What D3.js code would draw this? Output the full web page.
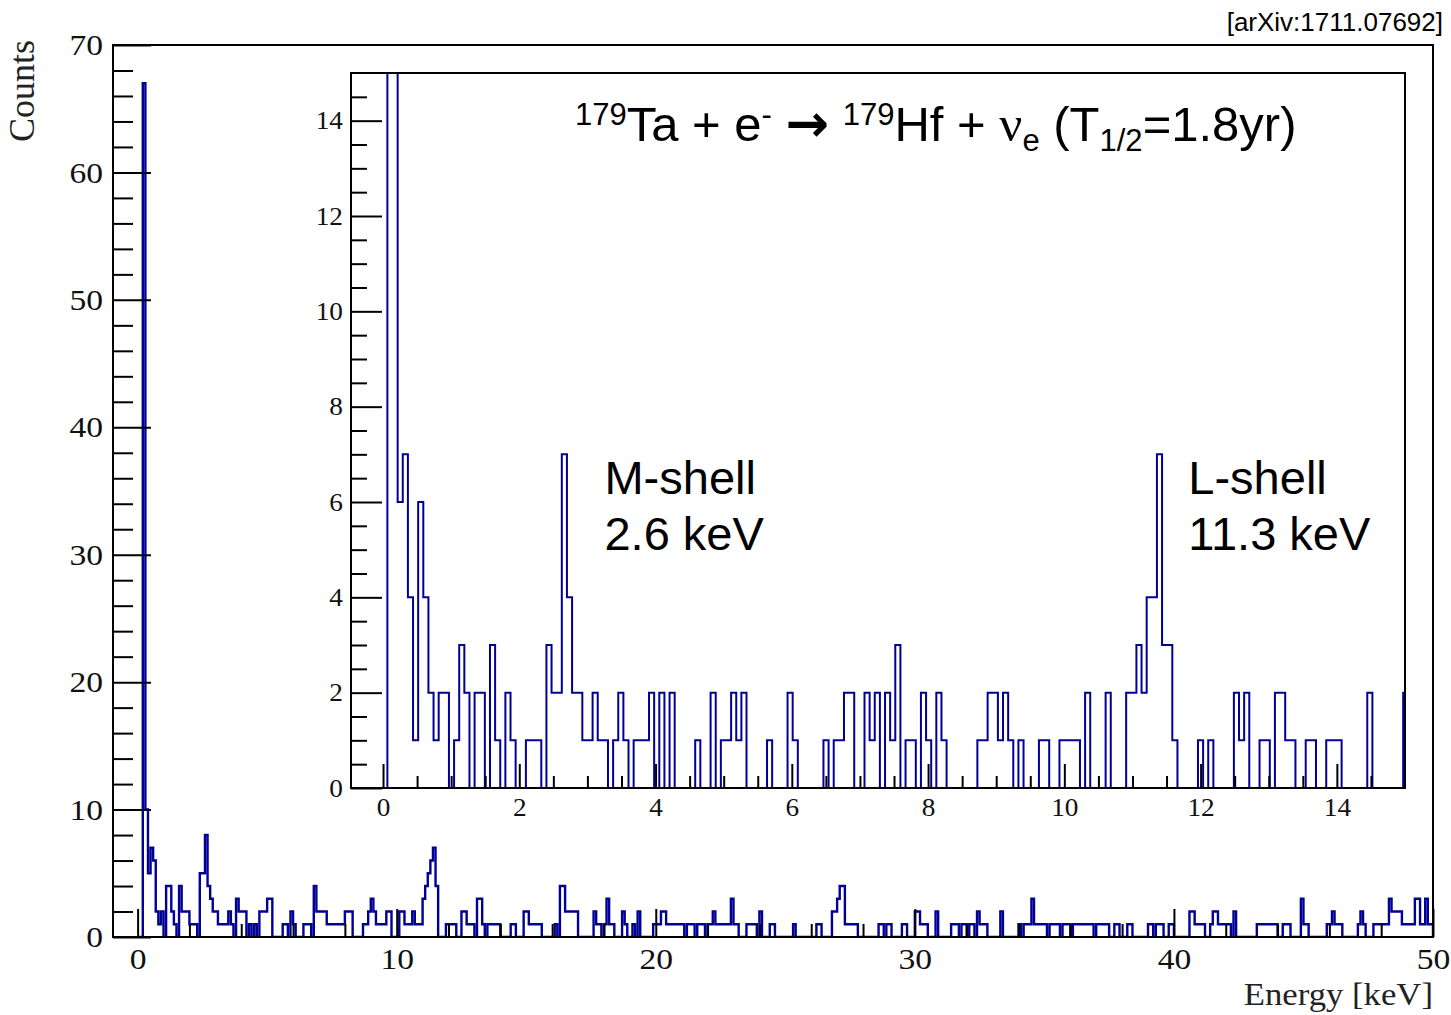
<!DOCTYPE html>
<html>
<head>
<meta charset="utf-8">
<script src="https://cdn.jsdelivr.net/npm/d3@7"></script>
<style>
  html, body { margin: 0; padding: 0; background: #fff; }
  svg { display: block; }
  text { white-space: pre; }
</style>
</head>
<body>
<svg id="chart" width="1451" height="1015"></svg>
<script>
// ---------------- data ----------------
// Full spectrum: counts per 0.1 keV bin, 0 - 50 keV
const spectrumBinStart = 0;
const spectrumBinWidth = 0.1;
const spectrumCounts = [
  0,0,67,10,5,7,6,2,1,2, 0,4,4,2,1,0,4,2,2,2, 1,1,1,0,5,5,8,4,3,2, 2,1,1,1,1,2,1,0,3,2, 2,2,0,1,0,1,0,2,2,2,
  3,3,0,0,0,0,1,1,0,2, 1,0,0,0,1,1,1,0,4,2, 2,2,2,1,1,1,1,1,1,1, 2,2,2,0,0,0,0,1,1,2, 3,2,1,1,1,1,2,2,0,0,
  0,2,2,1,1,1,2,1,1,1, 3,4,5,6,7,4,0,0,0,1, 1,1,1,0,0,2,2,1,1,1, 0,3,3,1,0,1,1,1,1,1, 0,0,0,0,1,1,0,0,0,2,
  2,1,1,1,1,1,0,0,0,0, 0,1,0,4,4,2,2,2,2,2, 0,0,0,0,0,0,2,1,1,0, 1,3,1,1,0,0,0,2,1,0, 0,1,0,2,0,0,0,0,0,1,
  1,1,2,2,1,1,1,1,1,1, 1,0,1,1,1,0,1,1,1,0, 1,1,2,1,1,1,1,1,1,3, 1,1,0,0,0,1,1,1,1,0, 2,0,0,0,1,1,0,0,0,0,
  0,0,0,1,0,0,0,0,0,0, 0,0,1,1,0,0,0,0,2,2, 3,4,4,1,1,1,1,1,0,0, 0,0,0,0,0,0,1,1,0,1, 1,0,0,0,0,1,1,0,0,0,
  2,2,1,1,1,0,0,0,2,0, 0,0,0,0,1,1,1,0,1,1, 0,1,1,0,2,1,1,1,0,0, 0,0,0,2,0,0,0,0,0,0, 1,0,1,1,1,3,1,1,1,1,
  1,0,1,1,1,1,0,1,1,1, 0,1,1,1,1,1,1,1,1,0, 1,1,1,1,1,0,0,1,1,0, 0,0,1,1,0,0,0,0,0,0, 1,1,0,1,1,1,0,0,1,1,
  0,0,0,0,0,0,2,2,1,1, 1,1,0,0,1,2,2,1,1,1, 1,1,0,2,0,0,0,0,0,0, 0,0,1,1,1,1,1,1,1,1, 0,0,1,1,1,0,0,0,0,3,
  1,1,0,0,0,0,0,0,0,1, 1,2,1,1,1,0,0,0,0,0, 0,1,2,1,0,0,0,1,1,1, 1,1,1,3,2,2,2,2,1,1, 1,1,1,3,3,1,1,3,1,1
];

// Low-energy detail: finer bins starting just above 0 keV
const detailBinStart = 0.064;
const detailBinWidth = 0.0753;
const detailCounts = [
  40,26,6,7,4,1,6,4,2,1,  2,2,0,1,3,2,0,2,2,0,  3,1,0,2,1,0,0,1,1,1,  0,3,2,2,7,4,2,2,1,1,
  2,1,1,0,1,2,1,0,1,1,    1,2,0,2,0,2,0,0,0,0,  1,0,0,2,0,1,1,2,1,2,  0,0,0,0,1,0,0,0,2,1,
  0,0,0,0,0,1,0,1,1,2,    2,0,0,2,1,2,0,2,1,3,  0,1,1,0,2,1,0,2,1,0,  0,0,0,0,0,1,1,2,2,1,
  2,1,0,1,0,0,0,1,1,0,    0,1,1,1,1,0,2,0,0,0,  2,0,0,0,2,2,3,2,4,4,  7,3,3,1,0,0,0,0,1,0,
  1,0,0,0,0,2,1,2,0,0,    1,1,0,2,2,1,1,0,0,1,  1,0,0,1,1,1,0,0,0,0,  0,2,0,0,0,0,0,0,2
];

// axis ticks
const spectrumXMajor = [0, 10, 20, 30, 40, 50];
const spectrumXMinor = [2,4,6,8,12,14,16,18,22,24,26,28,32,34,36,38,42,44,46,48];
const spectrumYMajor = [0, 10, 20, 30, 40, 50, 60, 70];
const spectrumYMinor = [2,4,6,8,12,14,16,18,22,24,26,28,32,34,36,38,42,44,46,48,52,54,56,58,62,64,66,68];
const detailXMajor = [0, 2, 4, 6, 8, 10, 12, 14];
const detailXMinor = [0.5,1,1.5,2.5,3,3.5,4.5,5,5.5,6.5,7,7.5,8.5,9,9.5,10.5,11,11.5,12.5,13,13.5,14.5];
const detailYMajor = [0, 2, 4, 6, 8, 10, 12, 14];
const detailYMinor = [0.5,1,1.5,2.5,3,3.5,4.5,5,5.5,6.5,7,7.5,8.5,9,9.5,10.5,11,11.5,12.5,13,13.5,14.5];

// text
const xTitle = "Energy [keV]";
const yTitle = "Counts";
const sourceNote = "[arXiv:1711.07692]";
const peakLabels = [
  { lines: ["M-shell", "2.6 keV"], at: 3.25 },
  { lines: ["L-shell", "11.3 keV"], at: 11.82 }
];

// ---------------- drawing ----------------
const svg = d3.select("#chart");
const serif = "'Liberation Serif', 'Times New Roman', serif";
const sans = "'Liberation Sans', Arial, sans-serif";
const histColor = "#000096";

const frame = { left: 113, right: 1433, top: 45, bottom: 937 };
const inner = { left: 351, right: 1405, top: 73, bottom: 788 };

const x = d3.scaleLinear().domain([-0.95, 50]).range([frame.left, frame.right]);
const y = d3.scaleLinear().domain([0, 70]).range([frame.bottom, frame.top]);
const xi = d3.scaleLinear().domain([-0.47, 15]).range([inner.left, inner.right]);
const yi = d3.scaleLinear().domain([0, 15]).range([inner.bottom, inner.top]);

svg.append("rect").attr("width", 1451).attr("height", 1015).attr("fill", "#fff");

const defs = svg.append("defs");
defs.append("clipPath").attr("id", "clipMain").append("rect")
  .attr("x", frame.left).attr("y", frame.top)
  .attr("width", frame.right - frame.left).attr("height", frame.bottom - frame.top);
defs.append("clipPath").attr("id", "clipInner").append("rect")
  .attr("x", inner.left).attr("y", inner.top)
  .attr("width", inner.right - inner.left).attr("height", inner.bottom - inner.top);

// outline of a histogram, ROOT style
function stepPoints(counts, start, width) {
  const pts = [[start, 0]];
  counts.forEach((c, i) => {
    const lo = start + i * width, hi = start + (i + 1) * width;
    pts.push([lo, c], [hi, c]);
  });
  pts.push([start + counts.length * width, 0]);
  return pts;
}

function drawHist(counts, start, width, sx, sy, clip, strokeWidth) {
  const line = d3.line().x(d => sx(d[0])).y(d => sy(d[1]));
  svg.append("path")
    .attr("d", line(stepPoints(counts, start, width)))
    .attr("clip-path", `url(#${clip})`)
    .attr("fill", "none")
    .attr("stroke", histColor)
    .attr("stroke-width", strokeWidth)
    .attr("stroke-linejoin", "miter");
}

function tickAxis(gen, values, size, tx, ty) {
  const g = svg.append("g").attr("transform", `translate(${tx},${ty})`)
    .call(gen.tickValues(values).tickSize(size).tickFormat(""));
  g.select(".domain").remove();
  g.selectAll(".tick line").attr("stroke", "#000").attr("stroke-width", 2);
  return g;
}

function labelAxis(gen, values, pad, tx, ty, fontSize, stretch) {
  const g = svg.append("g").attr("transform", `translate(${tx},${ty})`)
    .call(gen.tickValues(values).tickSize(0).tickPadding(pad).tickFormat(d3.format("d")));
  g.select(".domain").remove();
  g.selectAll(".tick text")
    .attr("font-family", serif).attr("font-size", fontSize).attr("fill", "#111")
    .each(function () {
      const t = d3.select(this);
      const xv = +t.attr("x") || 0;
      t.attr("x", xv / stretch).attr("transform", `scale(${stretch},1)`);
    });
  return g;
}

// ---- main spectrum ----
drawHist(spectrumCounts, spectrumBinStart, spectrumBinWidth, x, y, "clipMain", 2.4);

tickAxis(d3.axisTop(x), spectrumXMajor, 28, 0, frame.bottom);
tickAxis(d3.axisTop(x), spectrumXMinor, 13, 0, frame.bottom);
tickAxis(d3.axisRight(y), spectrumYMajor, 38, frame.left, 0);
tickAxis(d3.axisRight(y), spectrumYMinor, 20, frame.left, 0);

labelAxis(d3.axisBottom(x), spectrumXMajor, 11, 0, frame.bottom, 30, 1.12);
labelAxis(d3.axisLeft(y), spectrumYMajor, 10, frame.left, 0, 30, 1.12);

svg.append("rect")
  .attr("x", frame.left).attr("y", frame.top)
  .attr("width", frame.right - frame.left).attr("height", frame.bottom - frame.top)
  .attr("fill", "none").attr("stroke", "#000").attr("stroke-width", 2);

// axis titles
svg.append("text")
  .attr("transform", `translate(${frame.right},1005) scale(1.12,1)`)
  .attr("text-anchor", "end")
  .attr("font-family", serif).attr("font-size", 31).attr("fill", "#222")
  .text(xTitle);

svg.append("text")
  .attr("transform", `translate(34,40) rotate(-90)`)
  .attr("text-anchor", "end")
  .attr("font-family", serif).attr("font-size", 36).attr("fill", "#222")
  .text(yTitle);

svg.append("text")
  .attr("x", 1443).attr("y", 31)
  .attr("text-anchor", "end")
  .attr("font-family", sans).attr("font-size", 26).attr("fill", "#000")
  .text(sourceNote);

// ---- detail panel ----
svg.append("rect")
  .attr("x", inner.left).attr("y", inner.top)
  .attr("width", inner.right - inner.left).attr("height", inner.bottom - inner.top)
  .attr("fill", "#fff");

drawHist(detailCounts, detailBinStart, detailBinWidth, xi, yi, "clipInner", 2);

tickAxis(d3.axisTop(xi), detailXMajor, 24, 0, inner.bottom);
tickAxis(d3.axisTop(xi), detailXMinor, 12, 0, inner.bottom);
tickAxis(d3.axisRight(yi), detailYMajor, 31, inner.left, 0);
tickAxis(d3.axisRight(yi), detailYMinor, 16, inner.left, 0);

labelAxis(d3.axisBottom(xi), detailXMajor, 10, 0, inner.bottom, 26, 1.05);
labelAxis(d3.axisLeft(yi), detailYMajor, 8, inner.left, 0, 26, 1.05);

svg.append("rect")
  .attr("x", inner.left).attr("y", inner.top)
  .attr("width", inner.right - inner.left).attr("height", inner.bottom - inner.top)
  .attr("fill", "none").attr("stroke", "#000").attr("stroke-width", 2);

// reaction title with super/subscripts
const titleParts = [
  { t: "179", size: 31, shift: -16 },
  { t: "Ta + e", size: 49, shift: 0 },
  { t: "-", size: 31, shift: -16 },
  { t: " ", size: 49, shift: 0 },
  { t: "\u2192", size: 52, shift: 0, family: "'DejaVu Sans', sans-serif", weight: "bold" },
  { t: " ", size: 49, shift: 0 },
  { t: "179", size: 31, shift: -16 },
  { t: "Hf + ", size: 49, shift: 0 },
  { t: "\u03BD", size: 51, shift: 0, family: serif },
  { t: "e", size: 31, shift: 10 },
  { t: " (T", size: 49, shift: 0 },
  { t: "1/2", size: 31, shift: 10 },
  { t: "=1.8yr)", size: 49, shift: 0 }
];
const title = svg.append("text")
  .attr("x", 575).attr("y", 141)
  .attr("font-family", sans).attr("fill", "#000");
let prevShift = 0;
titleParts.forEach(p => {
  title.append("tspan")
    .attr("dy", p.shift - prevShift)
    .attr("font-size", p.size)
    .attr("font-family", p.family || sans)
    .attr("font-weight", p.weight || "normal")
    .text(p.t);
  prevShift = p.shift;
});

// peak annotations
peakLabels.forEach(p => {
  const t = svg.append("text")
    .attr("font-family", sans).attr("font-size", 47).attr("fill", "#000");
  p.lines.forEach((ln, i) => {
    t.append("tspan").attr("x", xi(p.at)).attr("y", 494 + i * 56).text(ln);
  });
});
</script>
</body>
</html>
